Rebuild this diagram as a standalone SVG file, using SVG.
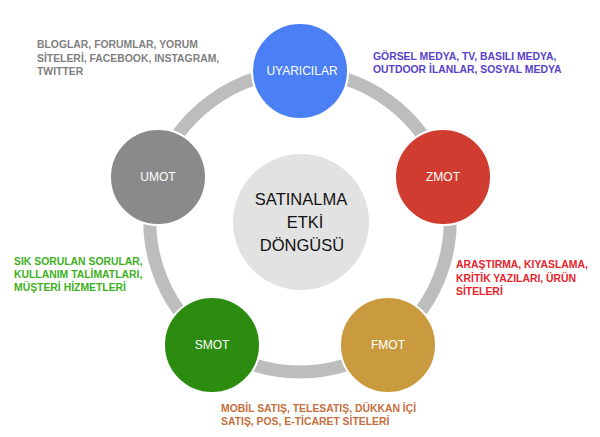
<svg xmlns="http://www.w3.org/2000/svg" width="600" height="437" viewBox="0 0 600 437">
<style>
.ring{fill:none;stroke:#bdbdbd;stroke-width:13}
.node{stroke:#ffffff;stroke-width:2}
.lbl{font-family:"Liberation Sans",Arial,sans-serif;font-size:12px;fill:#ffffff;text-anchor:middle;dominant-baseline:central}
.ann{font-family:"Liberation Sans",Arial,sans-serif;font-size:10.4px;font-weight:bold}
.ctr{font-family:"Liberation Sans",Arial,sans-serif;font-size:16.5px;fill:#111111;text-anchor:middle}
</style>
<rect width="600" height="437" fill="#ffffff"/>
<g id="connectors">
<path class="ring" d="M300 72 A150 150 0 0 1 442.66 175.65"/>
<path class="ring" d="M442.66 175.65 A150 150 0 0 1 388.17 343.35"/>
<path class="ring" d="M388.17 343.35 A150 150 0 0 1 211.83 343.35"/>
<path class="ring" d="M211.83 343.35 A150 150 0 0 1 157.34 175.65"/>
<path class="ring" d="M157.34 175.65 A150 150 0 0 1 300 72"/>
</g>
<g id="center">
<circle cx="301" cy="222" r="68" fill="#e2e2e2"/>
<text class="ctr" x="301" y="205">SATINALMA</text>
<text class="ctr" x="305" y="228">ETKİ</text>
<text class="ctr" x="302" y="251">DÖNGÜSÜ</text>
</g>
<g id="uyaricilar">
<circle class="node" cx="300" cy="71" r="48" fill="#4a7ff5"/>
<text class="lbl" x="302" y="71">UYARICILAR</text>
</g>
<g id="zmot">
<circle class="node" cx="443" cy="177" r="48" fill="#d13c30"/>
<text class="lbl" x="443" y="177">ZMOT</text>
</g>
<g id="fmot">
<circle class="node" cx="388" cy="345" r="48" fill="#c99b3e"/>
<text class="lbl" x="388" y="345">FMOT</text>
</g>
<g id="smot">
<circle class="node" cx="212" cy="345" r="48" fill="#2b8c10"/>
<text class="lbl" x="212" y="345">SMOT</text>
</g>
<g id="umot">
<circle class="node" cx="158" cy="177" r="48" fill="#8a8a8a"/>
<text class="lbl" x="158" y="177">UMOT</text>
</g>
<g id="ann-umot" class="ann" fill="#7f7f7f">
<text x="37" y="48">BLOGLAR, FORUMLAR, YORUM</text>
<text x="37" y="62">SİTELERİ, FACEBOOK, INSTAGRAM,</text>
<text x="37" y="75">TWITTER</text>
</g>
<g id="ann-uyaricilar" class="ann" fill="#5a3fcc">
<text x="373" y="60">GÖRSEL MEDYA, TV, BASILI MEDYA,</text>
<text x="373" y="73">OUTDOOR İLANLAR, SOSYAL MEDYA</text>
</g>
<g id="ann-zmot" class="ann" fill="#e8232b">
<text x="456" y="268">ARAŞTIRMA, KIYASLAMA,</text>
<text x="456" y="282">KRİTİK YAZILARI, ÜRÜN</text>
<text x="456" y="295">SİTELERİ</text>
</g>
<g id="ann-smot" class="ann" fill="#3eb01c">
<text x="14" y="265">SIK SORULAN SORULAR,</text>
<text x="14" y="278">KULLANIM TALİMATLARI,</text>
<text x="14" y="291">MÜŞTERİ HİZMETLERİ</text>
</g>
<g id="ann-fmot" class="ann" fill="#c4703e">
<text x="221" y="412">MOBİL SATIŞ, TELESATIŞ, DÜKKAN İÇİ</text>
<text x="221" y="425">SATIŞ, POS, E-TİCARET SİTELERİ</text>
</g>
</svg>
